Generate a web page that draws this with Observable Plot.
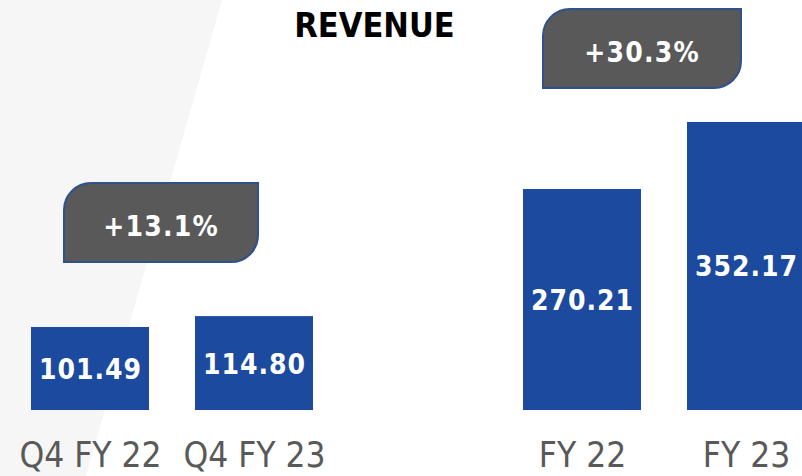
<!DOCTYPE html>
<html>
<head>
<meta charset="utf-8">
<script src="https://cdn.jsdelivr.net/npm/d3@7"></script>
<script src="https://cdn.jsdelivr.net/npm/@observablehq/plot@0.6"></script>
<style>
  html, body { margin: 0; padding: 0; background: #fff; overflow: hidden; }
  #wrap { position: relative; width: 802px; height: 476px; overflow: hidden; }
  #bg { position: absolute; left: 0; top: 0; width: 802px; height: 476px; background: #f6f6f6;
        clip-path: polygon(0 0, 222px 0, 86px 476px, 0 476px); }
  #chart { position: absolute; left: 0; top: 0; }
</style>
</head>
<body>
<div id="wrap"><div id="bg"></div><div id="chart"></div></div>
<script>
// ---- data ----
const title = "REVENUE";
const categories = ["Q4 FY 22", "Q4 FY 23", "FY 22", "FY 23"];
const revenue = [101.49, 114.80, 270.21, 352.17];
const valueLabels = ["101.49", "114.80", "270.21", "352.17"];
const growthLabels = ["+13.1%", "+30.3%"];
const growthFrom = ["Q4 FY 22", "FY 22"];
const growthTo = ["Q4 FY 23", "FY 23"];

// ---- tables built from data ----
const bars = categories.map((c, i) => ({cat: c, value: revenue[i], label: valueLabels[i]}));
const badges = growthLabels.map((g, i) => ({
  label: g, from: growthFrom[i], to: growthTo[i],
  top: Math.max(revenue[categories.indexOf(growthFrom[i])], revenue[categories.indexOf(growthTo[i])])
}));
const spacer = " ";
const xDomain = [categories[0], categories[1], spacer, categories[2], categories[3]];

// badge layout (pixel offsets, styling only)
const badgeLayout = [{dl: 33, dr: 63, gap: 54}, {dl: 20, dr: 54, gap: 34}];
const badgeH = 79, badgeR = 27;

const FONT = "'DejaVu Sans Condensed', 'DejaVu Sans', sans-serif";

function badgeMark(...args) {
  const scales = args.find(a => a && typeof a.x === "function" && typeof a.y === "function");
  const {x, y} = scales;
  const g = d3.create("svg:g");
  badges.forEach((b, i) => {
    const L = badgeLayout[i];
    const left = x(b.from) + L.dl;
    const right = x(b.to) + L.dr;
    const bottom = y(b.top) - L.gap;
    const top = bottom - badgeH;
    const r = badgeR;
    const p = `M${left},${top + r} A${r},${r} 0 0 1 ${left + r},${top} H${right} V${bottom - r} A${r},${r} 0 0 1 ${right - r},${bottom} H${left} Z`;
    g.append("path").attr("d", p).attr("fill", "#595959").attr("stroke", "#2F528F").attr("stroke-width", 2);
    g.append("text")
      .attr("x", (left + right) / 2)
      .attr("y", (top + bottom) / 2 + 3)
      .attr("dy", "0.36em")
      .attr("text-anchor", "middle")
      .attr("fill", "#fff")
      .attr("font-weight", "bold")
      .attr("font-size", 28)
      .attr("letter-spacing", 1.2)
      .attr("font-family", FONT)
      .text(b.label);
  });
  return g.node();
}

const chart = Plot.plot({
  width: 802,
  height: 476,
  marginTop: 0,
  marginBottom: 66,
  marginLeft: 0,
  marginRight: 0,
  style: {background: "transparent", fontFamily: FONT, overflow: "hidden"},
  x: {type: "band", domain: xDomain, range: [6.25, 828.75], paddingInner: 0.283, paddingOuter: 0.1415, axis: null},
  y: {domain: [0, 501.3], axis: null},
  marks: [
    Plot.barY(bars, {x: "cat", y: "value", fill: "#1B4A9E"}),
    Plot.text(bars, {x: "cat", y: d => d.value / 2, text: "label", fill: "#fff",
      fontWeight: "bold", fontSize: 28, dy: 1}),
    Plot.axisX(categories, {tickSize: 0, tickPadding: 32, fontSize: 35, color: "#595959", label: null}),
    Plot.text([title], {frameAnchor: "top", lineAnchor: "top", dx: -27, dy: 12,
      fontSize: 34, fontWeight: "bold", fill: "#000"}),
    badgeMark
  ]
});
chart.querySelectorAll("g[aria-label='text'] text").forEach(t => {
  if (valueLabels.includes(t.textContent)) t.setAttribute("letter-spacing", "1");
});
document.getElementById("chart").appendChild(chart);
</script>
</body>
</html>
